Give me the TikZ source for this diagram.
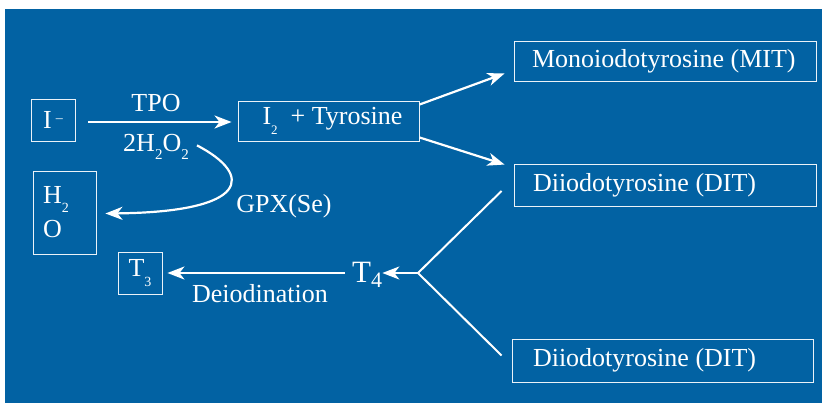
\documentclass[tikz,border=0pt]{standalone}
\usepackage{fontspec}
\setmainfont{Liberation Serif}
\usetikzlibrary{arrows.meta,calc}
\definecolor{bgblue}{RGB}{2,98,163}
\newcommand\lowsub[3]{\raisebox{-#1pt}{\fontsize{#2}{#2}\selectfont #3}}
\begin{document}
\begin{tikzpicture}[x=1pt,y=-1pt,
 box/.style={draw=white!92!bgblue,line width=0.9pt,inner sep=0pt,text=white,font=\fontsize{26}{34}\selectfont},
 lbl/.style={text=white,inner sep=0pt,font=\fontsize{26}{34}\selectfont},
 arr/.style={draw=white,line width=2.2pt,-{Stealth[length=17pt,width=13pt,inset=5pt]}},
 conn/.style={draw=white,line width=2pt}]
\useasboundingbox (0,0) rectangle (824,403);
\fill[bgblue] (5,9) rectangle (822,403);
% boxes
\node[box,minimum width=44pt,minimum height=42pt] (iminus) at (53,120) {I\,\raisebox{6pt}{\fontsize{14}{14}\selectfont –}};
\node[box,minimum width=181pt,minimum height=40pt] (i2tyr) at (328.5,121) {\hspace{8pt}I\lowsub{10}{13}{2}\ \ + Tyrosine};
\node[box,minimum width=302pt,minimum height=40pt,inner xsep=18pt] (mit) at (665,61) {\makebox[266pt][l]{Monoiodotyrosine (MIT)}};
\node[box,minimum width=302pt,minimum height=42pt,inner xsep=19pt] (dit1) at (665,185) {\makebox[264pt][l]{Diiodotyrosine (DIT)}};
\node[box,minimum width=301pt,minimum height=43pt,inner xsep=21pt] (dit2) at (662.5,360.5) {\makebox[259pt][l]{Diiodotyrosine (DIT)}};
\node[box,minimum width=63pt,minimum height=83pt,inner xsep=10pt,text width=43pt,align=left] (h2o) at (64.5,212.5) {H\lowsub{9}{14}{2}\\O};
\node[box,minimum width=44pt,minimum height=42pt] (t3) at (140,273) {T\lowsub{10}{14}{3}};
% labels
\node[lbl,anchor=base] (tpo) at (156,112) {TPO};
\node[lbl,anchor=base] (h2o2) at (156,152) {2H\lowsub{8}{15}{2}O\lowsub{8}{15}{2}};
\node[lbl,anchor=base] (gpx) at (284,213) {GPX(Se)};
\node[lbl,anchor=base] (deio) at (260,302) {Deiodination};
\node[lbl,anchor=base west,font=\fontsize{31}{36}\selectfont] (t4) at (352,283) {T\lowsub{5}{22}{4}};
\coordinate (j) at (418,273);
% connectors
\draw[arr,shorten <=13pt,shorten >=6pt] (iminus.east |- 0,122) -- (i2tyr.west |- 0,122);
\draw[arr] ($(i2tyr.north east)+(0,4)$) -- ($(mit.south west)+(-9,-8)$);
\draw[arr] ($(i2tyr.south east)+(0,-4)$) -- ($(dit1.north west)+(-9,1)$);
\draw[arr] ($(h2o2.east)+(8,-2)$) .. controls (254,175) and (250,212) .. ($(h2o.east)+(9,1)$);
\draw[conn] ($(dit1.west)+(-12,6)$) -- (j) -- ($(dit2.west)+(-10,-5)$);
\draw[arr] (j) -- (t4.east |- j);
\draw[arr,shorten <=7pt,shorten >=5pt] (t4.west |- j) -- (t3.east |- j);
\end{tikzpicture}
\end{document}
